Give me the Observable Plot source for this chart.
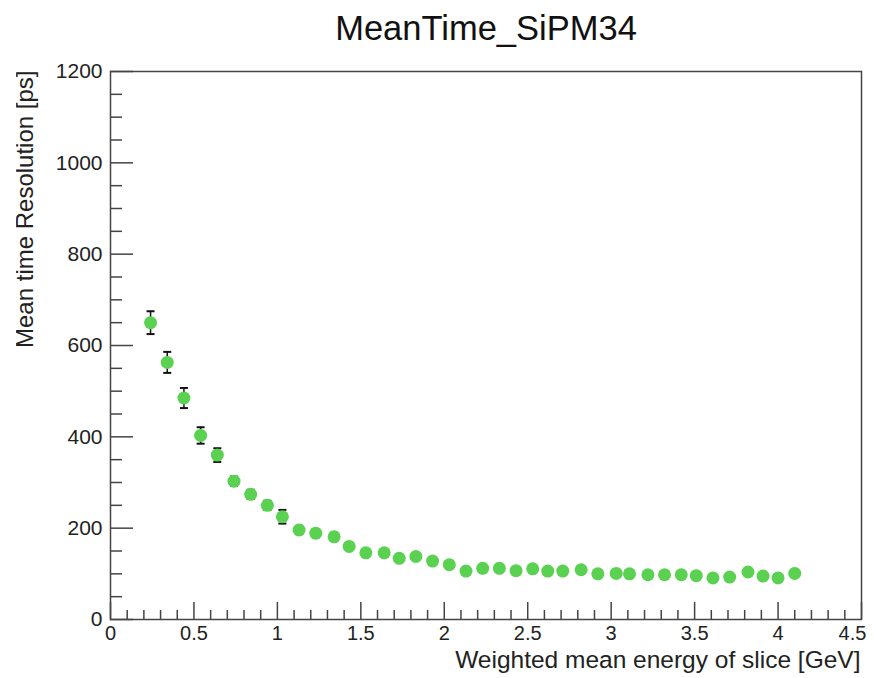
<!DOCTYPE html>
<html><head><meta charset="utf-8">
<script src="https://cdn.jsdelivr.net/npm/d3@7"></script>
<script src="https://cdn.jsdelivr.net/npm/@observablehq/plot@0.6"></script>
<style>
body{margin:0;background:#fff;}
#chart{position:relative;width:874px;height:678px;overflow:hidden;}
#mask{position:absolute;left:0;top:0;width:16px;height:678px;background:#fff;}
</style></head><body><div id="chart"><div id="mask"></div></div>
<script>
const titleText = "MeanTime_SiPM34";
const xTitle = "Weighted mean energy of slice [GeV]";
const yTitle = "Mean time Resolution [ps]";
const energy = [0.24,0.34,0.44,0.54,0.64,0.74,0.84,0.94,1.03,1.13,1.23,1.34,1.43,1.53,1.64,1.73,1.83,1.93,2.03,2.13,2.23,2.33,2.43,2.53,2.62,2.71,2.82,2.92,3.03,3.11,3.22,3.32,3.42,3.51,3.61,3.71,3.82,3.91,4.00,4.10];
const resolution = [650,563,485,403,360,303,274,250,225,196,189,181,160,146,146,134,138,128,120,106,112,112,107,111,106,106,109,100,101,100,98,98,98,96,91,93,104,95,91,101];
const errors = [25,23,22,18,15,10,10,10,15,9,9,9,8,8,8,7,7,7,7,7,7,7,7,7,7,7,7,7,7,7,7,7,7,7,7,7,7,7,7,7];
const xMajorTicks = [0,0.5,1,1.5,2,2.5,3,3.5,4,4.5];
const xTickLabels = ["0","0.5","1","1.5","2","2.5","3","3.5","4","4.5"];
const yMajorTicks = [0,200,400,600,800,1000,1200];
const yTickLabels = ["0","200","400","600","800","1000","1200"];
const xMinorTicks = d3.range(0, 4.5001, 0.1).map(v => +v.toFixed(2)).filter(v => !xMajorTicks.includes(v));
const yMinorTicks = d3.range(0, 1201, 50).filter(v => !yMajorTicks.includes(v));

const data = energy.map((x, i) => ({x, y: resolution[i], e: errors[i]}));
const W = 874, H = 678, mL = 110, mR = 13, mT = 71, mB = 59;
const plotW = W - mL - mR, plotH = H - mT - mB;
const cap = {draw(ctx, size) { const r = 4; ctx.moveTo(-r, 0); ctx.lineTo(r, 0); }};
const font = "Liberation Sans, Arial, Helvetica, sans-serif";
const axisColor = "#444";
const xLab = d => xTickLabels[xMajorTicks.indexOf(d)];

const chart = Plot.plot({
  width: W, height: H,
  marginLeft: mL, marginRight: mR, marginTop: mT, marginBottom: mB,
  style: {fontFamily: font, background: "#fff", color: "#222"},
  x: {domain: [0, 4.5]},
  y: {domain: [0, 1200]},
  marks: [
    Plot.tickY(yMinorTicks, {y: d => d, insetRight: plotW - 12, stroke: axisColor, strokeWidth: 1.5}),
    Plot.tickY(yMajorTicks, {y: d => d, insetRight: plotW - 23, stroke: axisColor, strokeWidth: 1.5}),
    Plot.tickX(xMinorTicks, {x: d => d, insetTop: plotH - 9, stroke: axisColor, strokeWidth: 1.5}),
    Plot.tickX(xMajorTicks, {x: d => d, insetTop: plotH - 17, stroke: axisColor, strokeWidth: 1.5}),
    Plot.axisY({ticks: yMajorTicks, tickSize: 0, tickPadding: 8, fontSize: 21, label: null,
      tickFormat: d => yTickLabels[yMajorTicks.indexOf(d)]}),
    Plot.axisX({ticks: xMajorTicks.slice(0, -1), tickSize: 0, tickPadding: 6, fontSize: 20, label: null, tickFormat: xLab}),
    Plot.axisX({ticks: xMajorTicks.slice(-1), tickSize: 0, tickPadding: 6, fontSize: 20, label: null, tickFormat: xLab, dx: -9}),
    Plot.frame({stroke: axisColor, strokeWidth: 1.5}),
    Plot.ruleX(data, {x: "x", y1: d => d.y - d.e, y2: d => d.y + d.e, stroke: "#111", strokeWidth: 1.5}),
    Plot.dot(data, {x: "x", y: d => d.y + d.e, symbol: cap, stroke: "#111", strokeWidth: 2, fill: "none"}),
    Plot.dot(data, {x: "x", y: d => d.y - d.e, symbol: cap, stroke: "#111", strokeWidth: 2, fill: "none"}),
    Plot.dot(data, {x: "x", y: "y", r: 6.5, fill: "#5bd152", stroke: "none"}),
    Plot.text([titleText], {frameAnchor: "top", dy: -43, fontSize: 34.5, lineAnchor: "middle", fill: "#111"}),
    Plot.text([xTitle], {frameAnchor: "bottom-right", dx: -1, dy: 41, fontSize: 24.5, textAnchor: "end", lineAnchor: "middle", fill: "#222"}),
    Plot.text([yTitle], {frameAnchor: "top-left", dx: -85, dy: -1, rotate: -90, fontSize: 24, textAnchor: "end", lineAnchor: "middle", fill: "#222"})
  ]
});
document.getElementById("chart").insertBefore(chart, document.getElementById("mask"));
</script></body></html>
